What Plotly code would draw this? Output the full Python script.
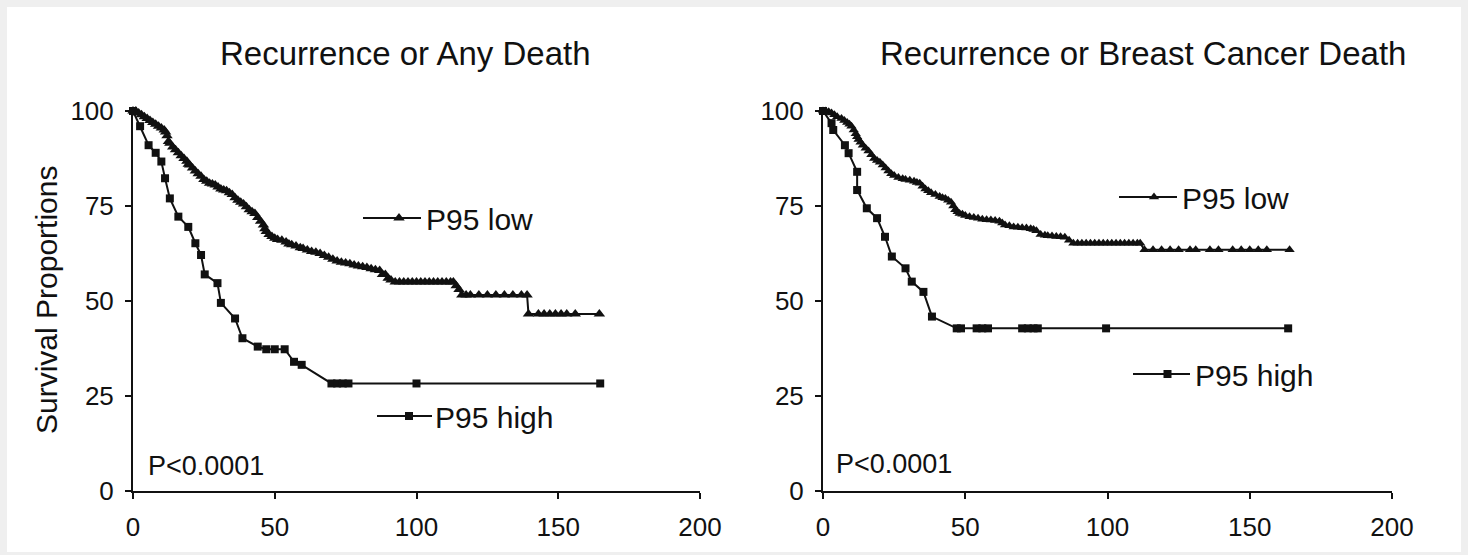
import plotly.graph_objects as go

# ---------------- data ----------------
left_low_t = [0, 1, 2, 3, 4, 5, 6, 7, 8, 9, 10, 11, 11.5, 12, 12.5, 13, 14, 15, 16, 17, 18, 19, 19.5, 20, 21, 22,
              23, 24, 25, 26, 27, 28, 29, 30, 31, 32, 33, 34, 35, 36, 37, 38, 39, 40, 41, 42, 43, 44, 45, 46, 46.5,
              47, 48, 49, 50, 51, 52.5, 54, 55, 56, 57.5, 59, 60, 61.5, 63, 64.5, 66, 67.5, 69, 70.5, 72, 73.5, 75,
              76.5, 78, 79.5, 81, 82.5, 84, 85.5, 87, 88, 89, 90, 91, 92.5, 94, 95.5, 97, 98.5, 100, 101.5, 103,
              104.5, 106, 107.5, 109, 110.5, 112, 113, 114, 115, 116, 117.5, 119, 122, 125, 128, 131, 134, 137,
              139, 139.5, 143, 145, 147, 149, 151, 153, 156, 164.5]
left_low_s = [100, 100, 99.5, 99, 98.5, 98, 97.5, 97, 96.5, 96, 95.5, 95, 94.5, 93.5, 92, 91.5, 90.5, 89.8, 89, 88.2,
              87.5, 86.8, 86, 85.8, 85, 84.2, 83.5, 82.8, 82, 81.5, 81, 80.8, 80.5, 80, 79.5, 79.2, 79, 78.5, 78,
              77.2, 76.5, 76, 75.5, 74.8, 74, 73.5, 73, 72, 71, 70, 69, 68.3, 67.5, 67, 66.5, 66.2, 66, 65.5, 65,
              64.8, 64.5, 64, 63.8, 63.4, 63, 62.8, 62.5, 62, 61.5, 61, 60.5, 60.2, 60, 59.8, 59.5, 59.2, 59, 58.8,
              58.5, 58.2, 58, 57, 57, 56, 55.5, 55, 55, 55, 55, 55, 55, 55, 55, 55, 55, 55, 55, 55, 55, 55, 54, 53,
              51.6, 51.6, 51.6, 51.6, 51.6, 51.6, 51.6, 51.6, 51.6, 51.6, 46.6, 46.6, 46.6, 46.6, 46.6, 46.6,
              46.6, 46.6, 46.6]

left_high_t = [0, 2.5, 5.5, 8, 10, 11.3, 13, 16, 19.5, 22, 24, 25.3, 29.8, 31, 36, 38.6, 44, 47, 50, 53.5, 56.8,
               59.5, 70, 72, 74, 76, 100, 164.8]
left_high_s = [100, 96, 91, 89, 86.7, 82.3, 77, 72.2, 69.5, 65.2, 62.1, 57, 54.7, 49.5, 45.4, 40.2, 38, 37.3, 37.3,
               37.3, 34, 33.2, 28.3, 28.3, 28.3, 28.3, 28.3, 28.3]

right_low_t = [0, 1, 2, 3, 4, 5, 6.5, 7.5, 8.5, 9.3, 10, 10.8, 11.5, 12, 12.5, 13.2, 14, 15, 16, 17, 18, 19, 20, 21,
               22, 23, 24, 25, 26.5, 28, 29, 30.5, 32, 33, 34, 35, 36, 37, 38, 39.5, 41, 42, 43, 44, 45, 45.8, 46.5,
               47.3, 48, 49, 50, 51.5, 53, 54.5, 56, 57.5, 59, 60.5, 62, 63, 64, 65.5, 67, 68.5, 70, 71.5, 73, 74,
               75, 76.5, 78, 79, 80.5, 82, 83.5, 85, 86.5, 88, 89.5, 91, 92.5, 94, 95.5, 97, 98.5, 100, 101.5, 103,
               104.5, 106, 107.5, 109, 110.5, 111.5, 113, 116, 119, 122, 125, 129, 131, 136, 139, 144, 147, 150,
               153, 156, 164]
right_low_s = [100, 100, 99.8, 99.5, 99, 98.5, 98, 97.5, 97, 96.5, 96, 95, 94, 93.2, 92.5, 91.8, 91, 90.2, 89.5,
               88.5, 87.5, 87, 86.5, 85.8, 85, 84.2, 83.5, 83, 82.5, 82.2, 82, 81.8, 81.5, 81.2, 81, 80.2, 79.5, 79,
               78.5, 78, 77.5, 77.2, 77, 76.5, 76, 75, 74, 73.5, 73, 72.8, 72.5, 72.2, 72, 71.8, 71.5, 71.4, 71.3,
               71.2, 71, 70.5, 70, 69.8, 69.5, 69.4, 69.3, 69.2, 69, 68.8, 68.5, 67.5, 67.3, 67.2, 67.1, 67, 66.9,
               66.8, 66, 65.2, 65.2, 65.2, 65.2, 65.2, 65.2, 65.2, 65.2, 65.2, 65.2, 65.2, 65.2, 65.2, 65.2, 65.2,
               65.2, 65.2, 63.5, 63.5, 63.5, 63.5, 63.5, 63.5, 63.5, 63.5, 63.5, 63.5, 63.5, 63.5, 63.5, 63.5,
               63.5, 63.5]

right_high_t = [0, 3, 3.6, 7.7, 9, 12, 12, 15.4, 19, 21.8, 24.2, 29, 31.2, 35.3, 38.3, 47, 48.5, 54, 56, 58, 70,
                72, 74, 75.5, 99.5, 163.5]
right_high_s = [100, 96.8, 95, 91, 88.9, 84, 79.2, 74.4, 71.8, 66.9, 61.7, 58.6, 55.1, 52.4, 45.9, 42.8, 42.8,
                42.8, 42.8, 42.8, 42.8, 42.8, 42.8, 42.8, 42.8, 42.8]

titles = ["Recurrence or Any Death", "Recurrence or Breast Cancer Death"]
y_title = "Survival Proportions"
p_text = "P<0.0001"
series_names = ["P95 low", "P95 high"]
x_ticks = [0, 50, 100, 150, 200]
y_ticks = [0, 25, 50, 75, 100]

# ---------------- figure ----------------
W, H = 1468, 555
FONT = "Liberation Sans, Arial, sans-serif"
INK = "#111111"


def px(x):
    return x / W


def py(y):
    return (H - y) / H


fig = go.Figure()

line_style = dict(color=INK, width=2)
fig.add_trace(go.Scatter(x=left_low_t, y=left_low_s, mode="lines+markers", name=series_names[0],
                         line=line_style, marker=dict(symbol="triangle-up", size=10, color=INK),
                         xaxis="x", yaxis="y", legend="legend", cliponaxis=False))
fig.add_trace(go.Scatter(x=left_high_t, y=left_high_s, mode="lines+markers", name=series_names[1],
                         line=line_style, marker=dict(symbol="square", size=8, color=INK),
                         xaxis="x", yaxis="y", legend="legend2", cliponaxis=False))
fig.add_trace(go.Scatter(x=right_low_t, y=right_low_s, mode="lines+markers", name=series_names[0],
                         line=line_style, marker=dict(symbol="triangle-up", size=9, color=INK),
                         xaxis="x2", yaxis="y2", legend="legend3", cliponaxis=False))
fig.add_trace(go.Scatter(x=right_high_t, y=right_high_s, mode="lines+markers", name=series_names[1],
                         line=line_style, marker=dict(symbol="square", size=8, color=INK),
                         xaxis="x2", yaxis="y2", legend="legend4", cliponaxis=False))

axis_common = dict(showline=True, linecolor=INK, linewidth=2, ticks="outside", ticklen=6, tickwidth=2,
                   tickcolor=INK, showgrid=False, zeroline=False, tickfont=dict(family=FONT, size=26, color=INK),
                   ticklabelstandoff=6, fixedrange=True, automargin=False)

ydom = [py(491), py(111)]
fig.update_layout(
    template="none",
    width=W, height=H,
    margin=dict(l=0, r=0, t=0, b=0, pad=0, autoexpand=False),
    paper_bgcolor="#efefef",
    plot_bgcolor="white",
    showlegend=True,
    font=dict(family=FONT, color=INK),
    xaxis=dict(domain=[px(133), px(700)], range=[0, 200], tickvals=x_ticks, anchor="y", **axis_common),
    yaxis=dict(domain=ydom, range=[0, 100], tickvals=y_ticks, anchor="x", **axis_common),
    xaxis2=dict(domain=[px(823), px(1392)], range=[0, 200], tickvals=x_ticks, anchor="y2", **axis_common),
    yaxis2=dict(domain=ydom, range=[0, 100], tickvals=y_ticks, anchor="x2", **axis_common),
)

leg_common = dict(bgcolor="rgba(0,0,0,0)", borderwidth=0, font=dict(family=FONT, size=30, color=INK),
                  xanchor="left", yanchor="middle", tracegroupgap=0)
# (legend x, legend y, itemwidth, sample line start, sample line end)
leg_pos = [(372, 218, 44, 363, 420), (383, 416, 42, 377, 432), (1126, 197, 46, 1119, 1176), (1140, 374, 45, 1133, 1188)]
fig.update_layout(
    legend=dict(x=px(leg_pos[0][0]), y=py(leg_pos[0][1]), itemwidth=leg_pos[0][2], **leg_common),
    legend2=dict(x=px(leg_pos[1][0]), y=py(leg_pos[1][1]), itemwidth=leg_pos[1][2], **leg_common),
    legend3=dict(x=px(leg_pos[2][0]), y=py(leg_pos[2][1]), itemwidth=leg_pos[2][2], **leg_common),
    legend4=dict(x=px(leg_pos[3][0]), y=py(leg_pos[3][1]), itemwidth=leg_pos[3][2], **leg_common),
)

# white page area framed by light gray border
fig.add_shape(type="rect", xref="paper", yref="paper", x0=px(7), x1=px(1461), y0=py(552), y1=py(7),
              fillcolor="white", line=dict(width=0), layer="below")
# longer legend sample lines
for lx, ly, iw, l0, l1 in leg_pos:
    fig.add_shape(type="line", xref="paper", yref="paper", x0=px(l0), x1=px(l1), y0=py(ly), y1=py(ly),
                  line=dict(color=INK, width=2), layer="above")

ann = []
ann.append(dict(text=titles[0], x=px(406), y=py(53), xref="paper", yref="paper", showarrow=False,
                font=dict(family=FONT, size=33, color=INK), xanchor="center", yanchor="middle"))
ann.append(dict(text=titles[1], x=px(1143), y=py(53), xref="paper", yref="paper", showarrow=False,
                font=dict(family=FONT, size=33, color=INK), xanchor="center", yanchor="middle"))
ann.append(dict(text=y_title, x=px(46), y=py(300), xref="paper", yref="paper", showarrow=False, textangle=-90,
                font=dict(family=FONT, size=30, color=INK), xanchor="center", yanchor="middle"))
ann.append(dict(text=p_text, x=px(146), y=py(466), xref="paper", yref="paper", showarrow=False,
                font=dict(family=FONT, size=27, color=INK), xanchor="left", yanchor="middle"))
ann.append(dict(text=p_text, x=px(834), y=py(464), xref="paper", yref="paper", showarrow=False,
                font=dict(family=FONT, size=27, color=INK), xanchor="left", yanchor="middle"))
fig.update_layout(annotations=ann)

fig.write_html("out.html", config={"displayModeBar": False},
               post_script="document.body.style.margin='0';document.body.style.overflow='hidden';")
